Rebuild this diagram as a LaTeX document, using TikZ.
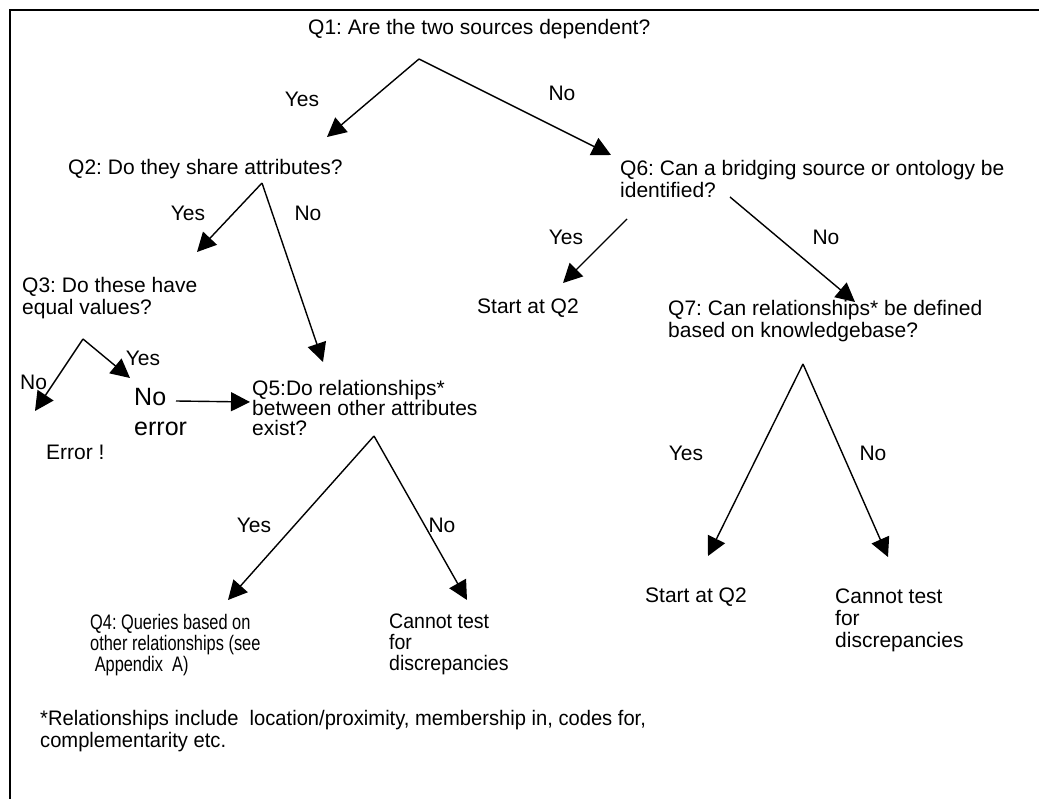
\documentclass[tikz,border=0pt]{standalone}
\usepackage{fontspec}
\setmainfont{Liberation Sans}
\newfontfamily\narrowA[FakeStretch=0.78]{Liberation Sans}
\newfontfamily\narrowB[FakeStretch=0.93]{Liberation Sans}
\newfontfamily\narrowC[FakeStretch=0.96]{Liberation Sans}
\usetikzlibrary{arrows.meta}
\frenchspacing
\begin{document}
\begin{tikzpicture}[x=1pt,y=-1pt,
  txt/.style={font=\fontsize{21}{22}\selectfont, inner sep=0pt, align=left},
  lbl/.style={font=\fontsize{21}{22}\selectfont, inner sep=0pt},
  branch/.style={line width=1.4pt, -{Triangle[length=19pt,width=19pt]}},
  frame/.style={line width=2.5pt}]
\useasboundingbox (0,0) rectangle (1039,799);
\draw[frame] (10,799) -- (10,10) -- (1039,10);

% questions and outcomes
\node[txt, anchor=west] (q1) at (308,29) {Q1: Are the two sources dependent?};
\node[txt, anchor=west] (q2) at (68,169) {Q2: Do they share attributes?};
\node[txt, anchor=north west] (q6) at (620,160) {Q6: Can a bridging source or ontology be\\identified?};
\node[txt, anchor=west] (s2a) at (477,308) {Start at Q2};
\node[txt, anchor=north west] (q7) at (668,300) {Q7: Can relationships* be defined\\based on knowledgebase?};
\node[txt, anchor=north west] (q3) at (22,277) {Q3: Do these have\\equal values?};
\node[txt, anchor=north west, font=\fontsize{21}{20}\selectfont] (q5) at (252,380) {Q5:Do relationships*\\between other attributes\\exist?};
\node[txt, anchor=north west, font=\fontsize{25}{30}\selectfont] (noerr) at (134,388) {No\\error};
\node[txt, anchor=west] (err) at (46,452) {Error !};
\node[txt, anchor=north west, font=\narrowA\fontsize{21}{21}\selectfont] (q4) at (90,614) {Q4: Queries based on\\other relationships (see\\\ Appendix\ \ A)};
\node[txt, anchor=north west, font=\narrowB\fontsize{21}{21}\selectfont] (ct1) at (389,614) {Cannot test\\for\\discrepancies};
\node[txt, anchor=west] (s2b) at (645,597) {Start at Q2};
\node[txt, anchor=north west] (ct2) at (835,589) {Cannot test\\for\\discrepancies};
\node[txt, anchor=north west, font=\narrowC\fontsize{21}{22}\selectfont] (note) at (40,710) {*Relationships include\ \ location/proximity, membership in, codes for,\\complementarity etc.};

% branch points and arrow ends
\coordinate (q1s) at (419,59);
\coordinate (q1y) at (327,137);
\coordinate (q1n) at (611,155);
\coordinate (q2s) at (262,183);
\coordinate (q2y) at (197,252);
\coordinate (q2n) at (323,362);
\coordinate (q6ys) at (627,219);
\coordinate (q6y) at (563,283);
\coordinate (q6ns) at (730,197);
\coordinate (q6n) at (855,302);
\coordinate (q3s) at (83,339);
\coordinate (q3n) at (35,411);
\coordinate (q3y) at (130,378);
\coordinate (nes) at (176,401);
\coordinate (nee) at (250,402);
\coordinate (q5s) at (374,436);
\coordinate (q5y) at (228,600);
\coordinate (q5n) at (467,600);
\coordinate (q7s) at (803,364);
\coordinate (q7y) at (708,556);
\coordinate (q7n) at (888,557);

% connectors
\draw[branch] (q1s) -- (q1y);
\draw[branch] (q1s) -- (q1n);
\draw[branch] (q2s) -- (q2y);
\draw[branch] (q2s) -- (q2n);
\draw[branch] (q6ys) -- (q6y);
\draw[branch] (q6ns) -- (q6n);
\draw[branch] (q3s) -- (q3n);
\draw[branch] (q3s) -- (q3y);
\draw[branch] (nes) -- (nee);
\draw[branch] (q5s) -- (q5y);
\draw[branch] (q5s) -- (q5n);
\draw[branch] (q7s) -- (q7y);
\draw[branch] (q7s) -- (q7n);

% branch labels
\node[lbl] (l1y) at (302,99) {Yes};
\node[lbl] (l1n) at (562,93) {No};
\node[lbl] (l2y) at (188,213) {Yes};
\node[lbl] (l2n) at (308,213) {No};
\node[lbl] (l6y) at (566,237) {Yes};
\node[lbl] (l6n) at (826,237) {No};
\node[lbl] (l3y) at (143,358) {Yes};
\node[lbl, anchor=west] (l3n) at (20,382) {No};
\node[lbl] (l5y) at (254,525) {Yes};
\node[lbl] (l5n) at (442,525) {No};
\node[lbl] (l7y) at (686,453) {Yes};
\node[lbl] (l7n) at (873,453) {No};
\end{tikzpicture}
\end{document}
